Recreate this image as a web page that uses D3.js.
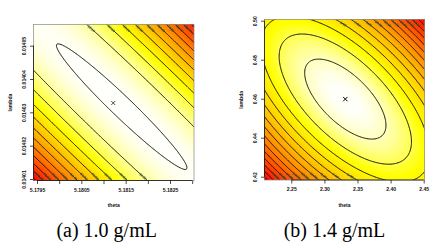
<!DOCTYPE html>
<html>
<head>
<meta charset="utf-8">
<script src="https://d3js.org/d3.v7.min.js"></script>
<style>
body { margin: 0; background: #fff; }
svg { display: block; font-family: "Liberation Sans", Arial, sans-serif; }
.tick text { font-size: 5.1px; font-weight: bold; fill: #111; }
.title { font-size: 5.1px; font-weight: bold; fill: #111; }
.cap { font-family: "Liberation Serif", "Times New Roman", serif; font-size: 20px; fill: #000; }
</style>
</head>
<body>
<svg width="444" height="249"></svg>
<script>

// ---- panel (a) 1.0 g/mL ----
var thetaTicksA = [5.1795, 5.1800, 5.1805, 5.1810, 5.1815, 5.1820, 5.1825, 5.1830];
var thetaLabelsA = ["5.1795", "", "5.1805", "", "5.1815", "", "5.1825", ""];
var lambdaTicksA = [0.01401, 0.01402, 0.01403, 0.01404, 0.01405];
var lambdaLabelsA = ["0.01401", "0.01402", "0.01403", "0.01404", "0.01405"];
var centerA = [5.18141, 0.0140317];             // centre of the contour ellipses (theta, lambda)
var spreadA = [0.0014727, 0.000018847, -0.9734]; // sd theta, sd lambda, correlation
var mleA = [5.18122, 0.0140328];                // the "x" mark
var levelsA = [1, 12.1, 22.6, 33.0, 43.5, 53.9, 64.4, 74.8, 85.3, 95.7, 106.2, 116.6];

// ---- panel (b) 1.4 g/mL ----
var thetaTicksB = [2.25, 2.30, 2.35, 2.40, 2.45];
var thetaLabelsB = ["2.25", "2.30", "2.35", "2.40", "2.45"];
var lambdaTicksB = [0.42, 0.44, 0.46, 0.48, 0.50];
var lambdaLabelsB = ["0.42", "0.44", "0.46", "0.48", "0.50"];
var centerB = [2.3316, 0.4598];
var spreadB = [0.0614, 0.02051, -0.654];
var mleB = [2.3316, 0.4598];
var levelsB = [1, 2.65, 4.3, 5.95, 7.6, 9.25, 10.9, 12.55, 14.2, 15.85, 17.5, 19.15, 20.8, 22.45];

var svg = d3.select("svg");

// quadratic (deviance-like) surface around a centre
function surface(c, s) {
  var sdT = s[0], sdL = s[1], rho = s[2];
  return function(t, l) {
    var z1 = (t - c[0]) / sdT, z2 = (l - c[1]) / sdL;
    return (z1 * z1 - 2 * rho * z1 * z2 + z2 * z2) / (1 - rho * rho);
  };
}

// reversed heat colours: white -> yellow -> red
function heatScale(yellowAt) {
  return function(t) {
    t = Math.max(0, Math.min(1, t));
    if (t < yellowAt) return d3.rgb(255, 255, Math.round(255 * (1 - t / yellowAt)));
    return d3.rgb(255, Math.round(255 * (1 - (t - yellowAt) / (1 - yellowAt))), 0);
  };
}

function drawPanel(p) {
  var x = d3.scaleLinear().domain(p.thetaDomain).range([p.left, p.right]);
  var y = d3.scaleLinear().domain(p.lambdaDomain).range([p.bottom, p.top]);
  var heat = heatScale(p.yellowAt);
  var g = svg.append("g");

  var clipId = "clip-" + p.id;
  svg.append("clipPath").attr("id", clipId).append("rect")
    .attr("x", p.left).attr("y", p.top)
    .attr("width", p.right - p.left).attr("height", p.bottom - p.top);

  // sample the surface on a grid a little larger than the plot so rings close outside the clip
  var nx = 200, ny = 200, pad = 8;
  var t0 = x.invert(p.left - pad), t1 = x.invert(p.right + pad);
  var l0 = y.invert(p.bottom + pad), l1 = y.invert(p.top - pad);
  var f = surface(p.center, p.spread);
  var vals = new Array(nx * ny);
  for (var j = 0; j < ny; j++) {
    for (var i = 0; i < nx; i++) {
      vals[i + j * nx] = f(t0 + i / (nx - 1) * (t1 - t0), l1 - j / (ny - 1) * (l1 - l0));
    }
  }
  var vmax = d3.max([
    f(p.thetaDomain[0], p.lambdaDomain[0]), f(p.thetaDomain[1], p.lambdaDomain[0]),
    f(p.thetaDomain[0], p.lambdaDomain[1]), f(p.thetaDomain[1], p.lambdaDomain[1])
  ]);

  function toScreen(gx, gy) {
    return [x(t0 + (gx - 0.5) / (nx - 1) * (t1 - t0)), y(l1 - (gy - 0.5) / (ny - 1) * (l1 - l0))];
  }
  var proj = d3.geoTransform({
    point: function(gx, gy) { var s = toScreen(gx, gy); this.stream.point(s[0], s[1]); }
  });
  var path = d3.geoPath(proj);

  var inner = g.append("g").attr("clip-path", "url(#" + clipId + ")");

  // image of the surface
  var nb = 140;
  var fillLevels = d3.range(nb).map(function(k) { return k / nb * vmax; });
  inner.append("g").selectAll("path")
    .data(d3.contours().size([nx, ny]).thresholds(fillLevels)(vals))
    .join("path")
    .attr("d", path)
    .attr("fill", function(d) { return heat((d.value + vmax / nb / 2) / vmax); })
    .attr("stroke", "none");

  // contour lines
  var lines = d3.contours().size([nx, ny]).thresholds(p.levels)(vals);
  inner.append("g").selectAll("path")
    .data(lines)
    .join("path")
    .attr("d", path)
    .attr("fill", "none")
    .attr("stroke", "#111")
    .attr("stroke-width", 1);

  // contour labels
  var cy0 = y(p.center[1]);
  var fmt = d3.format(".2f");
  lines.forEach(function(c, k) {
    c.coordinates.forEach(function(poly) {
      var ring = poly[0].map(function(q) { return toScreen(q[0], q[1]); });
      var idx = d3.range(ring.length).filter(function(i) {
        var q = ring[i];
        return q[0] > p.left + 5 && q[0] < p.right - 5 && q[1] > p.top + 4 && q[1] < p.bottom - 4;
      });
      if (!idx.length) return;
      var where;
      if (idx.length === ring.length) where = p.closedLabel[k] || "top";
      else where = d3.mean(idx, function(i) { return ring[i][1]; }) > cy0 ? "bottom" : "top";
      var best = where === "bottom"
        ? d3.greatest(idx, function(i) { return ring[i][1]; })
        : d3.least(idx, function(i) { return ring[i][1]; });
      var n = ring.length;
      var a = ring[(best - 2 + n) % n], b = ring[(best + 2) % n];
      var ang = Math.atan2(b[1] - a[1], b[0] - a[0]) * 180 / Math.PI;
      if (ang > 90) ang -= 180;
      if (ang < -90) ang += 180;
      inner.append("text")
        .attr("transform", "translate(" + ring[best] + ") rotate(" + ang + ")")
        .attr("text-anchor", "middle")
        .attr("dy", "0.35em")
        .style("font-size", "3.4px")
        .style("font-weight", "bold")
        .style("fill", "#2c4a3a")
        .text(fmt(p.levels[k]));
    });
  });

  // frame
  g.append("rect")
    .attr("x", p.left).attr("y", p.top)
    .attr("width", p.right - p.left).attr("height", p.bottom - p.top)
    .attr("fill", "none").attr("stroke", "#888").attr("stroke-width", 0.7);

  // MLE mark
  var times = d3.symbolTimes || d3.symbolCross;
  g.append("path")
    .attr("transform", "translate(" + x(p.mle[0]) + "," + y(p.mle[1]) + ")" + (d3.symbolTimes ? "" : " rotate(45)"))
    .attr("d", d3.symbol().type(times).size(p.markSize)())
    .attr("fill", d3.symbolTimes ? "none" : "#000")
    .attr("stroke", "#000")
    .attr("stroke-width", p.markStroke);

  // x axis (R style: line from first to last tick)
  var xa = g.append("g").attr("transform", "translate(0," + p.bottom + ")")
    .call(d3.axisBottom(x).tickValues(p.thetaTicks)
      .tickFormat(function(d, i) { return p.thetaLabels[i]; })
      .tickSize(3.5).tickPadding(4));
  xa.select(".domain").remove();
  xa.selectAll("line").attr("stroke", "#000").attr("stroke-width", 0.7);
  xa.append("line")
    .attr("x1", x(p.thetaTicks[0])).attr("x2", x(p.thetaTicks[p.thetaTicks.length - 1]))
    .attr("stroke", "#000").attr("stroke-width", 0.7);

  // y axis with labels parallel to the axis
  var ya = g.append("g").attr("transform", "translate(" + p.left + ",0)")
    .call(d3.axisLeft(y).tickValues(p.lambdaTicks)
      .tickFormat(function(d, i) { return p.lambdaLabels[i]; })
      .tickSize(3.5));
  ya.select(".domain").remove();
  ya.selectAll("line").attr("stroke", "#000").attr("stroke-width", 0.7);
  ya.selectAll("text")
    .attr("x", null).attr("dy", null)
    .attr("transform", "translate(-7.8,0) rotate(-90)")
    .attr("text-anchor", "middle");
  ya.append("line")
    .attr("y1", y(p.lambdaTicks[0])).attr("y2", y(p.lambdaTicks[p.lambdaTicks.length - 1]))
    .attr("stroke", "#000").attr("stroke-width", 0.7);

  // axis titles
  g.append("text").attr("class", "title")
    .attr("x", (p.left + p.right) / 2).attr("y", 206.5)
    .attr("text-anchor", "middle").text("theta");
  g.append("text").attr("class", "title")
    .attr("transform", "translate(" + (p.left - 21.5) + "," + ((p.top + p.bottom) / 2) + ") rotate(-90)")
    .attr("text-anchor", "middle").text("lambda");

  // caption
  g.append("text").attr("class", "cap")
    .attr("x", p.capX).attr("y", 237)
    .attr("text-anchor", "middle").text(p.caption);
}

drawPanel({
  id: "a", left: 33.5, right: 194, top: 24.5, bottom: 180.5,
  thetaDomain: [5.179421, 5.183041], lambdaDomain: [0.01400955, 0.01405635],
  thetaTicks: thetaTicksA, thetaLabels: thetaLabelsA,
  lambdaTicks: lambdaTicksA, lambdaLabels: lambdaLabelsA,
  center: centerA, spread: spreadA, mle: mleA, levels: levelsA,
  closedLabel: ["bottom"], markSize: 12, markStroke: 0.7, yellowAt: 0.25,
  capX: 106.7, caption: "(a) 1.0 g/mL"
});

drawPanel({
  id: "b", left: 264.5, right: 424.5, top: 19.5, bottom: 180,
  thetaDomain: [2.20952, 2.45121], lambdaDomain: [0.41831, 0.50062],
  thetaTicks: thetaTicksB, thetaLabels: thetaLabelsB,
  lambdaTicks: lambdaTicksB, lambdaLabels: lambdaLabelsB,
  center: centerB, spread: spreadB, mle: mleB, levels: levelsB,
  closedLabel: ["top", "bottom"], markSize: 14, markStroke: 1, yellowAt: 0.16,
  capX: 334.5, caption: "(b) 1.4 g/mL"
});

</script>
</body>
</html>
